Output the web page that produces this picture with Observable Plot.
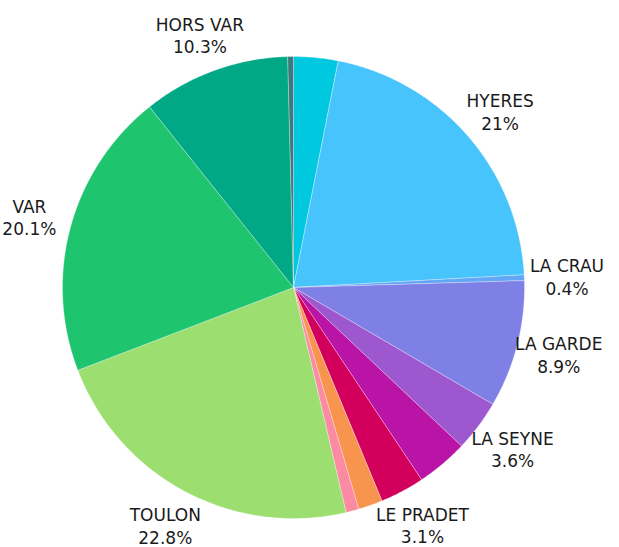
<!DOCTYPE html>
<html><head><meta charset="utf-8">
<script src="https://cdn.jsdelivr.net/npm/d3@7"></script>
<script src="https://cdn.jsdelivr.net/npm/@observablehq/plot@0.6"></script>
<style>body{margin:0;background:#fff}</style>
</head><body><div id="chart"></div>
<script>
// Slices in clockwise order starting at 12 o'clock
const categories = ["AUTRE 1","HYERES","LA CRAU","LA GARDE","LA SEYNE","AUTRE 2","LE PRADET","AUTRE 3","AUTRE 4","TOULON","VAR","HORS VAR","AUTRE 5"];
const values = [3.1, 21, 0.4, 8.9, 3.6, 3.6, 3.1, 1.7, 0.9, 22.8, 20.1, 10.3, 0.4];
const showLabel = [false, true, true, true, true, false, true, false, false, true, true, true, false];
const colors = ["#00c9df","#48c4fc","#62a6f6","#7f80e6","#9d57cf","#ba14a6","#d2005c","#f7954f","#fc8aa3","#9cde70","#1ec46e","#00a886","#3c7a80"];

const total = d3.sum(values);
const slices = [];
const labels = [];
let acc = 0;
values.forEach((v, i) => {
  const a0 = acc / total * 2 * Math.PI;
  acc += v;
  const a1 = acc / total * 2 * Math.PI;
  const n = Math.max(2, Math.ceil((a1 - a0) / (Math.PI / 360)));
  slices.push({name: categories[i], x: 0, y: 0, k: 0});
  for (let j = 0; j <= n; j++) {
    const a = a0 + (a1 - a0) * j / n;
    slices.push({name: categories[i], x: Math.sin(a), y: Math.cos(a), k: j + 1});
  }
  slices.push({name: categories[i], x: 0, y: 0, k: n + 2});
  if (showLabel[i]) {
    const m = (a0 + a1) / 2;
    labels.push({text: `${categories[i]}\n${v}%`, x: 1.185 * Math.sin(m), y: 1.165 * Math.cos(m)});
  }
});

const chart = Plot.plot({
  width: 619,
  height: 547,
  margin: 0,
  x: {domain: [-1, 1], range: [62, 524], axis: null},
  y: {domain: [-1, 1], range: [518, 56], axis: null},
  color: {domain: categories, range: colors},
  style: {background: "#fff", overflow: "visible"},
  marks: [
    Plot.line(slices, {x: "x", y: "y", z: "name", fill: "name", stroke: "#fff", strokeWidth: 0.6, strokeOpacity: 0.5, curve: "linear"}),
    Plot.text(labels, {x: "x", y: "y", text: "text", fontSize: 17, fontFamily: "DejaVu Sans", fill: "#1a1a1a", lineHeight: 1.33, textAnchor: "middle", lineAnchor: "middle"})
  ]
});
document.getElementById("chart").append(chart);
</script>
</body></html>
